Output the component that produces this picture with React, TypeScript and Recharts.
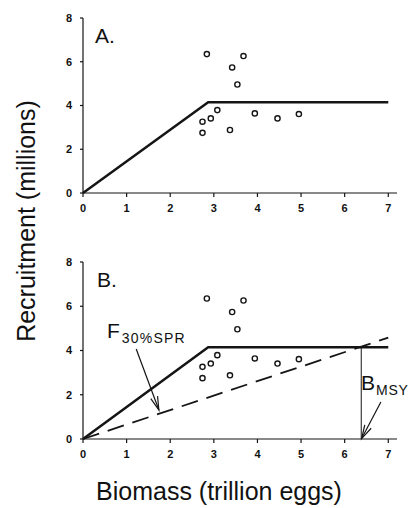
import { ComposedChart, Scatter, XAxis, YAxis, ReferenceLine } from "recharts";

// observed stock-recruitment points (biomass, recruitment)
const obsBiomass = [2.84, 3.68, 3.42, 3.54, 3.08, 2.93, 2.74, 2.74, 3.37, 3.94, 4.46, 4.95];
const obsRecruits = [6.35, 6.26, 5.74, 4.96, 3.79, 3.41, 3.26, 2.75, 2.88, 3.64, 3.41, 3.61];

// hockey-stick recruitment curve
const hockeyX = [0, 2.87, 7];
const hockeyY = [0, 4.15, 4.15];

// F30%SPR replacement line
const replX = [0, 7];
const replY = [0, 4.58];

const bmsy = 6.38;
const xTicks = [0, 1, 2, 3, 4, 5, 6, 7];
const yTicks = [0, 2, 4, 6, 8];

const points = obsBiomass.map((x, i) => ({ x, y: obsRecruits[i] }));
const hockey = hockeyX.map((x, i) => ({ x, y: hockeyY[i] }));
const repl = replX.map((x, i) => ({ x, y: replY[i] }));

const INK = "#151515";
const FONT = "Arial, 'Liberation Sans', sans-serif";

const OpenCircle = (props: any) => (
  <circle cx={props.cx} cy={props.cy} r={2.6} fill="#fff" stroke={INK} strokeWidth={1.4} />
);

const NoDot = () => <g />;

// line with an open V head at the second point
const Arrow = (props: any) => {
  const { x1, y1, x2, y2 } = props;
  const ang = Math.atan2(y2 - y1, x2 - x1);
  const len = 14;
  const spread = 0.26;
  const ax = x2 - len * Math.cos(ang - spread);
  const ay = y2 - len * Math.sin(ang - spread);
  const bx = x2 - len * Math.cos(ang + spread);
  const by = y2 - len * Math.sin(ang + spread);
  return (
    <g stroke={INK} strokeWidth={1.2} fill="none">
      <line x1={x1} y1={y1} x2={x2} y2={y2} />
      <polyline points={`${ax},${ay} ${x2},${y2} ${bx},${by}`} />
    </g>
  );
};

const tickStyle = { fontSize: 11, fontWeight: "bold", fill: "#111", fontFamily: FONT };

function Panel({ showRef, height }: { showRef: boolean; height: number }) {
  return (
    <ComposedChart width={415} height={height} margin={{ top: 18, right: 18, left: 63, bottom: 17 }}>
      <XAxis
        type="number"
        dataKey="x"
        domain={[0, 7.2]}
        ticks={xTicks}
        interval={0}
        height={20}
        tickSize={4}
        tickMargin={7}
        stroke={INK}
        strokeWidth={1.2}
        tick={tickStyle}
      />
      <YAxis
        type="number"
        dataKey="y"
        domain={[0, 8]}
        ticks={yTicks}
        interval={0}
        width={20}
        tickSize={3}
        tickMargin={8}
        stroke={INK}
        strokeWidth={1.2}
        tick={tickStyle}
      />
      <Scatter
        data={hockey}
        line={{ stroke: INK, strokeWidth: 2.5 }}
        shape={NoDot}
        isAnimationActive={false}
      />
      {showRef && (
        <Scatter
          data={repl}
          line={{ stroke: INK, strokeWidth: 1.8, strokeDasharray: "17 9" }}
          shape={NoDot}
          isAnimationActive={false}
        />
      )}
      {showRef && (
        <ReferenceLine
          segment={[
            { x: bmsy, y: 0 },
            { x: bmsy, y: 4.15 },
          ]}
          stroke={INK}
          strokeWidth={1}
        />
      )}
      {showRef && (
        <ReferenceLine
          segment={[
            { x: 1.22, y: 4.07 },
            { x: 1.74, y: 1.31 },
          ]}
          shape={Arrow}
        />
      )}
      {showRef && (
        <ReferenceLine
          segment={[
            { x: 6.83, y: 1.67 },
            { x: 6.39, y: 0.02 },
          ]}
          shape={Arrow}
        />
      )}
      <Scatter data={points} shape={OpenCircle} isAnimationActive={false} />
    </ComposedChart>
  );
}

export default function App() {
  return (
    <div style={{ position: "absolute", left: 0, top: 0, width: 415, height: 508, background: "#fff" }}>
      <div style={{ position: "absolute", left: 0, top: 0 }}>
        <Panel showRef={false} height={230} />
      </div>
      <div style={{ position: "absolute", left: 0, top: 244 }}>
        <Panel showRef={true} height={232} />
      </div>
      <svg
        width={415}
        height={508}
        style={{ position: "absolute", left: 0, top: 0, pointerEvents: "none" }}
        fontFamily={FONT}
        fill="#111"
      >
        <text x={95} y={43} fontSize={21}>A.</text>
        <text x={97} y={287} fontSize={21}>B.</text>
        <text x={35} y={221} fontSize={25} textAnchor="middle" transform="rotate(-90 35 221)">
          Recruitment (millions)
        </text>
        <text x={219} y={500} fontSize={25} textAnchor="middle">
          Biomass (trillion eggs)
        </text>
        <text x={107} y={338} fontSize={21}>
          F
          <tspan fontSize={14} letterSpacing={1.2} dx={2} dy={5}>30%SPR</tspan>
        </text>
        <text x={361} y={390} fontSize={21}>
          B
          <tspan fontSize={14} letterSpacing={0.8} dx={1} dy={5}>MSY</tspan>
        </text>
      </svg>
    </div>
  );
}
